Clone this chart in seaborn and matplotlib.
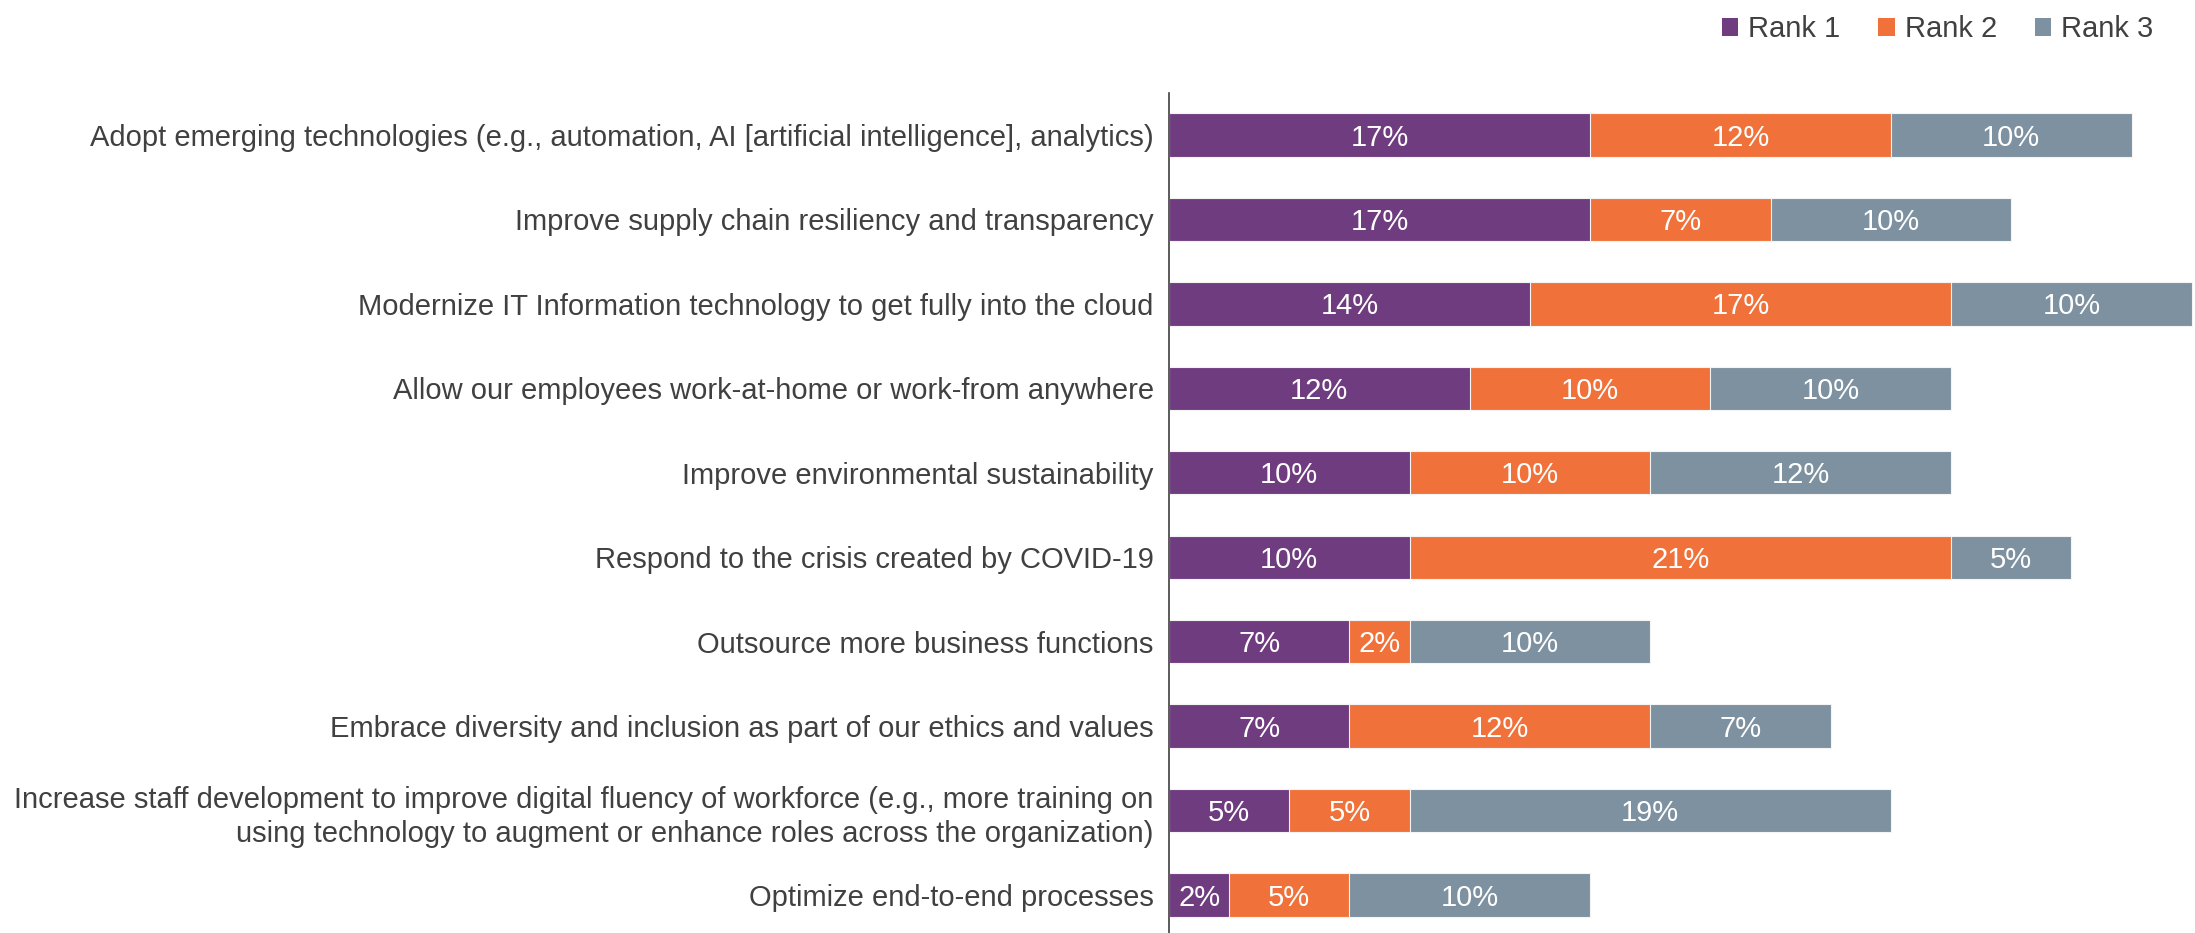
import matplotlib
matplotlib.use("Agg")
import matplotlib.pyplot as plt
from matplotlib.patches import Patch
import numpy as np
import pandas as pd
import seaborn as sns

categories = [
    "Adopt emerging technologies (e.g., automation, AI [artificial intelligence], analytics)",
    "Improve supply chain resiliency and transparency",
    "Modernize IT Information technology to get fully into the cloud",
    "Allow our employees work-at-home or work-from anywhere",
    "Improve environmental sustainability",
    "Respond to the crisis created by COVID-19",
    "Outsource more business functions",
    "Embrace diversity and inclusion as part of our ethics and values",
    "Increase staff development to improve digital fluency of workforce (e.g., more training on\nusing technology to augment or enhance roles across the organization)",
    "Optimize end-to-end processes",
]
# percentages (labels shown rounded)
rank1 = [16.67, 16.67, 14.29, 11.90, 9.52, 9.52, 7.14, 7.14, 4.76, 2.38]
rank2 = [11.90, 7.14, 16.67, 9.52, 9.52, 21.43, 2.38, 11.90, 4.76, 4.76]
rank3 = [9.52, 9.52, 9.52, 9.52, 11.90, 4.76, 9.52, 7.14, 19.05, 9.52]
series_names = ["Rank 1", "Rank 2", "Rank 3"]
colors = ["#703C80", "#F0723A", "#7D91A0"]

sns.set_theme(style="white")
plt.rcParams["font.family"] = ["Liberation Sans", "DejaVu Sans"]
text_color = "#404040"

df = pd.DataFrame({"category": categories, "r1": rank1, "r2": rank2, "r3": rank3})
df["c1"] = df["r1"]
df["c2"] = df["r1"] + df["r2"]
df["c3"] = df["c2"] + df["r3"]

fig = plt.figure(figsize=(21.95, 9.33), dpi=100)
ax = fig.add_axes([1169 / 2195, -0.0045, 1026 / 2195, 0.905])

# stacked bars: draw cumulative totals back to front
for col, color in zip(["c3", "c2", "c1"], colors[::-1]):
    sns.barplot(data=df, x=col, y="category", orient="h", color=color, saturation=1,
                width=0.514, edgecolor="#F4F4F4", linewidth=0.8, ax=ax)

# segment labels
for i, row in df.iterrows():
    starts = [0, row["c1"], row["c2"]]
    for s, v in zip(starts, [row["r1"], row["r2"], row["r3"]]):
        ax.text(s + v / 2, i + 0.03, f"{v:.0f}%", ha="center", va="center",
                color="white", fontsize=21)

ax.set_xlim(0, 40.6)
ax.set_ylim(9.5, -0.5)
ax.set_xlabel("")
ax.set_ylabel("")
ax.set_xticks([])
ax.tick_params(axis="y", length=0, pad=11, labelsize=21, labelcolor=text_color)
for lbl in ax.get_yticklabels():
    lbl.set_horizontalalignment("right")
    lbl.set_linespacing(1.3)
for side in ["top", "right", "bottom"]:
    ax.spines[side].set_visible(False)
ax.spines["left"].set_color(text_color)
ax.spines["left"].set_linewidth(1.2)

handles = [Patch(facecolor=c, edgecolor="none") for c in colors]
fig.legend(handles, series_names, loc="upper right", bbox_to_anchor=(0.993, 1.012),
           ncol=3, frameon=False, fontsize=21, labelcolor=text_color,
           handlelength=0.55, handleheight=0.55, handletextpad=0.35, columnspacing=1.3)

fig.savefig("out.png", dpi=100)
